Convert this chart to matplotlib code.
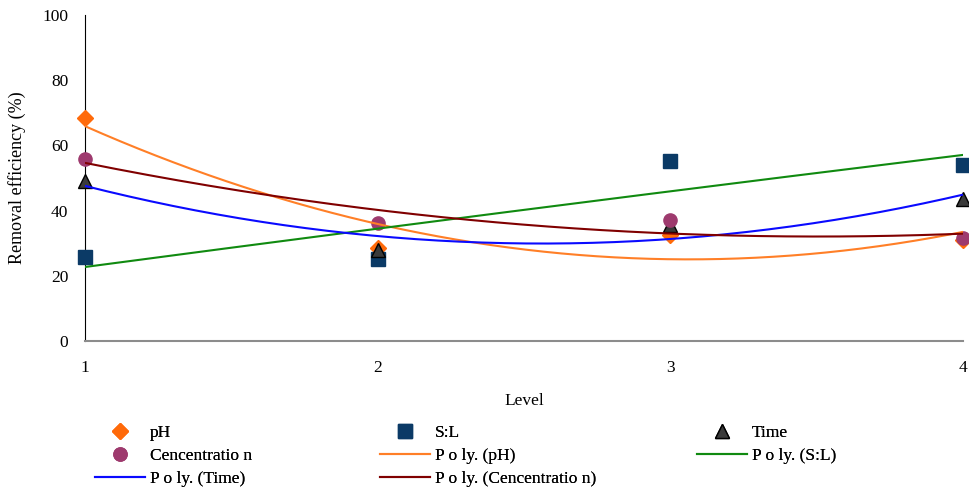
import numpy as np
import matplotlib
matplotlib.use("Agg")
import matplotlib.pyplot as plt

plt.rcParams['font.family'] = ['Liberation Serif', 'DejaVu Serif']

# data
levels = [1, 2, 3, 4]
ph = [68.4, 28.5, 32.5, 31.0]
sl = [25.8, 25.2, 55.2, 54.0]
time_ = [49.0, 28.0, 35.5, 43.5]
conc = [56.0, 36.2, 37.0, 31.6]

series = [
    ('pH', ph, 'D', '#FF6A0A', '#FF6A0A', '#FF7F27'),
    ('S:L', sl, 's', '#0B3A66', '#0B3A66', '#108A10'),
    ('Time', time_, '^', '#3A3A3A', 'black', '#0A0AFF'),
    ('Cencentration', conc, 'o', '#9E3A6E', '#9E3A6E', '#800000'),
]

fig = plt.figure(figsize=(9.7, 4.96), dpi=100)
ax = fig.add_axes([0.0876, 0.3125, 0.905, 0.657])

xs = np.linspace(1, 4, 200)
pts = {}
fits = {}
for name, vals, mk, fc, ec, lc in series:
    size = 8.5 if mk == 'D' else 9.5
    pts[name], = ax.plot(levels, vals, linestyle='none', marker=mk, markersize=size,
                         markerfacecolor=fc, markeredgecolor=ec, markeredgewidth=1,
                         clip_on=False, zorder=3, label=name)
for name, vals, mk, fc, ec, lc in series:
    coef = np.polyfit(levels, vals, 2)
    fits[name], = ax.plot(xs, np.polyval(coef, xs), color=lc, lw=1.5, zorder=4,
                          label='P o ly. (%s)' % ('Cencentratio n' if name == 'Cencentration' else name))
pts['Cencentration'].set_label('Cencentratio n')

ax.set_xlim(1, 4)
ax.set_ylim(0, 100)
ax.set_xticks(levels)
ax.set_yticks(range(0, 101, 20))
ax.tick_params(length=0, labelsize=12.5)
ax.tick_params(axis='x', pad=14)
ax.tick_params(axis='y', pad=12)
for s in ['top', 'right']:
    ax.spines[s].set_visible(False)
ax.spines['left'].set_color('black')
ax.spines['bottom'].set_color('#8C8C8C')
ax.spines['bottom'].set_linewidth(1.5)
ax.set_xlabel('Level', fontsize=12.5, labelpad=12)
ax.set_ylabel('Removal efficiency (%)', fontsize=13, labelpad=12)

# legend: three columns, each its own legend so the columns sit like the reference
columns = [
    (95, [pts['pH'], pts['Cencentration'], fits['Time']]),
    (380, [pts['S:L'], fits['pH'], fits['Cencentration']]),
    (697, [pts['Time'], fits['S:L']]),
]
for x_px, handles in columns:
    leg = fig.legend(handles=handles, loc='upper left',
                     bbox_to_anchor=(x_px / 970, 1 - 425 / 496),
                     frameon=False, fontsize=12.5, handlelength=2.9,
                     handletextpad=0.25, labelspacing=0.38, borderpad=0,
                     borderaxespad=0)
    fig.add_artist(leg)

fig.savefig('out.png', dpi=100)
